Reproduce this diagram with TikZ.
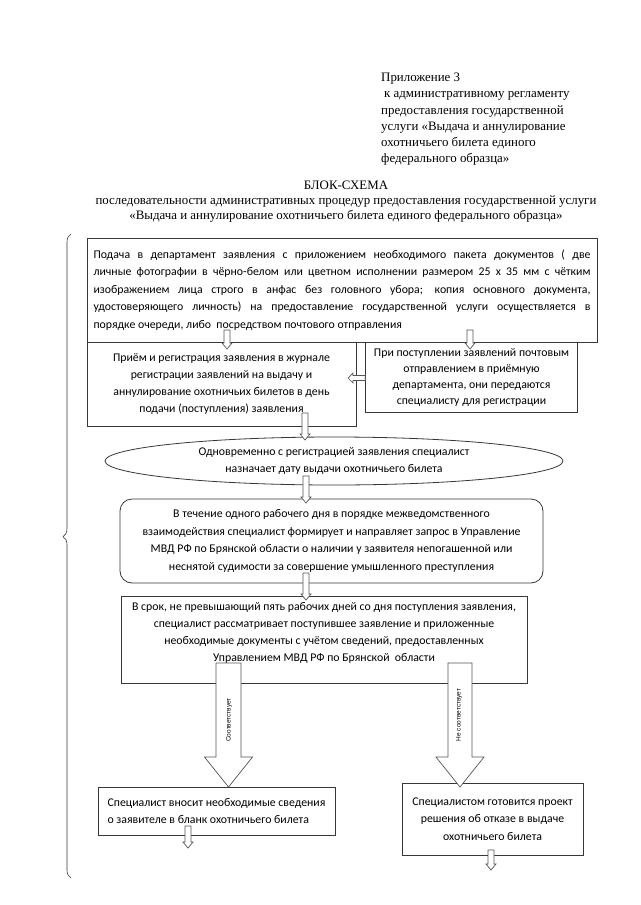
\documentclass[tikz,border=0pt]{standalone}
\usepackage{fontspec}
\setmainfont{Liberation Serif}
\newfontfamily\boxfont{Carlito}
\newfontfamily\labelfont{Liberation Sans}
\usetikzlibrary{shapes.geometric,calc,decorations.pathreplacing}
\definecolor{frame}{RGB}{55,55,55}
\definecolor{arrowgray}{RGB}{85,85,85}
\tikzstyle{box}=[draw=frame, line width=0.8pt, rectangle, inner sep=0pt, align=center, font=\boxfont\fontsize{11.8}{17.5}\selectfont]
\tikzstyle{oval}=[box, ellipse]
\tikzstyle{blockarrow}=[draw=arrowgray, fill=white, line width=0.7pt, line join=miter]
%% text held at the top of a box: height, width, text
\newcommand{\toptext}[3]{\parbox[c][#1][t]{#2}{\centering\vspace*{3pt}#3}}
%% hollow arrows: start, tip, half shaft, half head, head length
\newcommand{\hollowdown}[5]{%
  \draw[blockarrow] let \p1=(#1), \p2=(#2) in
    (\x1-#3pt,\y1) -- (\x1-#3pt,\y2+#5pt) -- (\x1-#4pt,\y2+#5pt) -- (\x1,\y2)
    -- (\x1+#4pt,\y2+#5pt) -- (\x1+#3pt,\y2+#5pt) -- (\x1+#3pt,\y1) -- cycle;}
\newcommand{\hollowleft}[5]{%
  \draw[blockarrow] let \p1=(#1), \p2=(#2) in
    (\x1,\y1+#3pt) -- (\x2+#5pt,\y1+#3pt) -- (\x2+#5pt,\y1+#4pt) -- (\x2,\y1)
    -- (\x2+#5pt,\y1-#4pt) -- (\x2+#5pt,\y1-#3pt) -- (\x1,\y1-#3pt) -- cycle;}

\begin{document}
\begin{tikzpicture}[x=1pt,y=-1pt]
  \useasboundingbox (0,0) rectangle (640,905);
  %% Heading
  \draw (381,73) node[anchor=north west, align=left, inner sep=0pt, font=\fontsize{12.9}{16.2}\selectfont] (Appx)
    {Приложение 3\\ \hspace*{3pt}к административному регламенту\\ предоставления государственной\\ услуги «Выдача и аннулирование\\ охотничьего билета единого\\ федерального образца»};
  \draw (346,181) node[anchor=north, align=center, inner sep=0pt, font=\fontsize{12.9}{15}\selectfont] (Title)
    {БЛОК-СХЕМА\\ последовательности административных процедур предоставления государственной услуги\\ «Выдача и аннулирование охотничьего билета единого федерального образца»};

  %% Boxes
  \draw (342,290) node[box, minimum width=510, minimum height=104, text width=497, align=justify] (B1)
    {Подача в департамент заявления с приложением необходимого пакета документов ( две\linebreak
     личные фотографии в чёрно-белом или цветном исполнении размером 25 х 35 мм с чётким\linebreak
     изображением лица строго в анфас без головного убора; копия основного документа,\linebreak
     удостоверяющего личность) на предоставление государственной услуги осуществляется в\linebreak
     порядке очереди, либо \ посредством почтового отправления};
  \draw (221.5,384) node[box, minimum width=269, minimum height=84, font=\boxfont\fontsize{11.8}{17}\selectfont] (B2L)
    {\raisebox{3pt}{\begin{tabular}{@{}c@{}}Приём и регистрация заявления в журнале\\ регистрации заявлений на выдачу и\\ аннулирование охотничьих билетов в день\\ подачи (поступления) заявления\end{tabular}}};
  \draw (471.5,377) node[box, minimum width=212, minimum height=70, font=\boxfont\fontsize{11.8}{16}\selectfont] (B2R)
    {При поступлении заявлений почтовым\\ отправлением в приёмную\\ департамента, они передаются\\ специалисту для регистрации};
  \draw (334,461) node[oval, minimum width=458, minimum height=48] (E)
    {Одновременно с регистрацией заявления специалист\\ назначает дату выдачи охотничьего билета};
  \draw (331.5,541) node[box, rounded corners=12pt, minimum width=423, minimum height=84] (B3)
    {В течение одного рабочего дня в порядке межведомственного\\ взаимодействия специалист формирует и направляет запрос в Управление\\ МВД РФ по Брянской области о наличии у заявителя непогашенной или\\ неснятой судимости за совершение умышленного преступления};
  \draw (324,639.5) node[box, minimum width=406, inner ysep=3pt, font=\boxfont\fontsize{11.8}{17}\selectfont] (B4)
    {\toptext{81pt}{400pt}{В срок, не превышающий пять рабочих дней со дня поступления заявления,\\ специалист рассматривает поступившее заявление и приложенные\\ необходимые документы с учётом сведений, предоставленных\\ Управлением МВД РФ по Брянской \ области}};
  \draw (216.5,811) node[box, minimum width=237, minimum height=48, align=left] (B5L)
    {Специалист вносит необходимые сведения\\ о заявителе в бланк охотничьего билета};
  \draw (492.5,819) node[box, minimum width=181, minimum height=72] (B5R)
    {Специалистом готовится проект\\ решения об отказе в выдаче\\ охотничьего билета};

  %% Arrow ends
  \coordinate (a1) at (227,330);  \coordinate (a1t) at (227,349);
  \coordinate (a2) at (470,330);  \coordinate (a2t) at (470,349);
  \coordinate (a3) at (B2R.west |- 0,378); \coordinate (a3t) at (348,378);
  \coordinate (a4) at (305,413);  \coordinate (a4t) at (305,440);
  \coordinate (a5) at (306,476);  \coordinate (a5t) at (306,503);
  \coordinate (a6) at (306,573);  \coordinate (a6t) at (306,600);
  \coordinate (a7) at (228.5,663); \coordinate (a7t) at (228.5,787);
  \coordinate (a8) at (460,663);  \coordinate (a8t) at (460,787);
  \coordinate (a9) at (188,826);  \coordinate (a9t) at (188,848);
  \coordinate (a10) at (491,850); \coordinate (a10t) at (491,870);

  \hollowdown{a1}{a1t}{3}{5}{6}
  \hollowdown{a2}{a2t}{3}{5}{6}
  \hollowleft{a3}{a3t}{2.5}{5}{5}
  \hollowdown{a4}{a4t}{3}{5}{6}
  \hollowdown{a5}{a5t}{3}{5}{6}
  \hollowdown{a6}{a6t}{3}{5}{6}
  \hollowdown{a7}{a7t}{12.5}{24}{30}
  \hollowdown{a8}{a8t}{12}{24}{30}
  \hollowdown{a9}{a9t}{3}{5}{6}
  \hollowdown{a10}{a10t}{3}{5}{6}

  %% Labels on the big arrows
  \draw (229,720) node[rotate=90, inner sep=0pt, font=\labelfont\fontsize{6.5}{7}\selectfont] (L1) {Соответствует};
  \draw (459,715) node[rotate=90, inner sep=0pt, font=\labelfont\fontsize{6.5}{7}\selectfont] (L2) {Не соответствует};

  %% Brace on the left
  \draw[frame, line width=0.6pt, decorate, decoration={brace, amplitude=8pt, aspect=0.53}] (71,878) -- (71,234);
\end{tikzpicture}
\end{document}
